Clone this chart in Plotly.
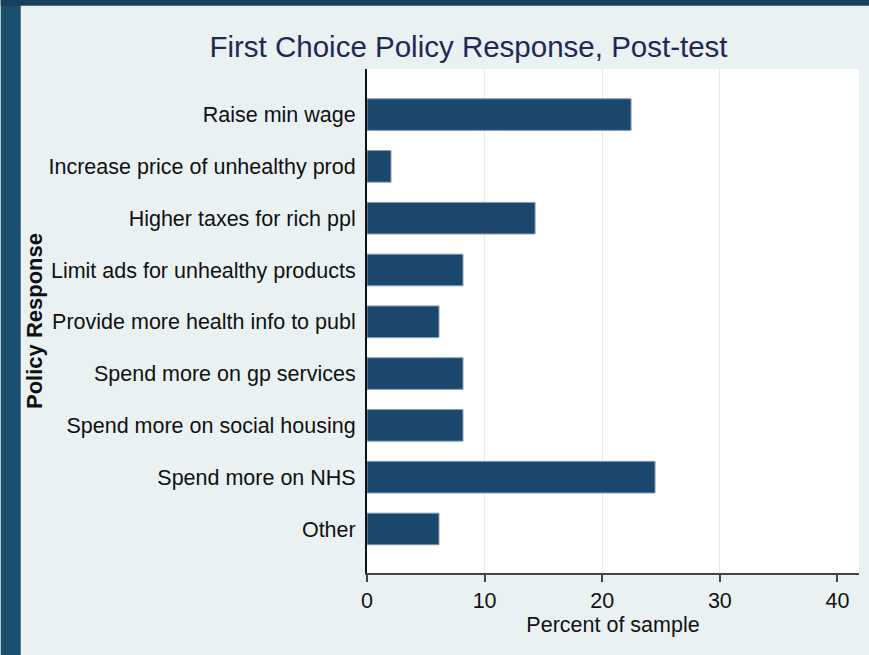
import plotly.graph_objects as go

categories = [
    "Raise min wage",
    "Increase price of unhealthy prod",
    "Higher taxes for rich ppl",
    "Limit ads for unhealthy products",
    "Provide more health info to publ",
    "Spend more on gp services",
    "Spend more on social housing",
    "Spend more on NHS",
    "Other",
]
percent = [22.45, 2.04, 14.29, 8.16, 6.12, 8.16, 8.16, 24.49, 6.12]
x_ticks = [0, 10, 20, 30, 40]
grid_ticks = [10, 20, 30]

W, H = 869, 655
L, R, T, B = 366.7, 9.7, 69.3, 82

fig = go.Figure()
fig.add_trace(go.Bar(
    x=percent, y=categories, orientation="h",
    marker=dict(color="#1c476d", line=dict(color="#7f9bb5", width=1)),
    width=0.61, xaxis="x", yaxis="y", showlegend=False,
))
# invisible trace on overlay axis for gridlines
fig.add_trace(go.Scatter(x=[None], y=[None], xaxis="x2", yaxis="y", showlegend=False))

font_family = "Liberation Sans, Arial, sans-serif"
fs = 21.5
fig.update_layout(
    width=W, height=H,
    margin=dict(l=L, r=R, t=T, b=B, pad=0),
    paper_bgcolor="#e9f1f3",
    plot_bgcolor="#ffffff",
    font=dict(family=font_family, size=fs, color="#111111"),
    title=dict(
        text="First Choice Policy Response, Post-test",
        x=468.5 / W, xref="container", xanchor="center",
        y=1 - 47 / H, yref="container", yanchor="middle",
        font=dict(size=29.5, color="#1e2a55", family=font_family),
    ),
    xaxis=dict(
        range=[0, 41.83], tickvals=x_ticks, ticktext=[str(v) for v in x_ticks],
        showgrid=False, zeroline=False,
        showline=True, linecolor="#444444", linewidth=2,
        ticks="outside", ticklen=7, tickwidth=2, tickcolor="#444444",
        tickfont=dict(size=fs, color="#111111"),
        title=dict(text="Percent of sample", standoff=0, font=dict(size=fs, color="#111111")),
    ),
    xaxis2=dict(
        range=[0, 41.83], overlaying="x", tickvals=grid_ticks,
        showgrid=True, gridcolor="#e3ecef", gridwidth=1,
        showticklabels=False, ticks="", zeroline=False, showline=False,
    ),
    yaxis=dict(
        type="category", categoryorder="array", categoryarray=categories,
        range=[8.85, -0.88],
        showgrid=False, zeroline=False,
        showline=True, linecolor="#111111", linewidth=2,
        ticks="", ticklabelstandoff=5,
        tickfont=dict(size=fs, color="#111111"),
        title=dict(text="<b>Policy Response</b>", standoff=0,
                   font=dict(size=22, color="#111111")),
    ),
    shapes=[
        dict(type="rect", xref="paper", yref="paper",
             x0=(0 - L) / (W - L - R), x1=(20 - L) / (W - L - R),
             y0=(H - B - H) / (H - T - B), y1=(H - B) / (H - T - B) + 0.2,
             fillcolor="#1b4e6d", line=dict(width=0), layer="above"),
        dict(type="rect", xref="paper", yref="paper",
             x0=(0 - L) / (W - L - R), x1=1.1,
             y0=(H - B - 6) / (H - T - B), y1=(H - B) / (H - T - B) + 0.2,
             fillcolor="#17415d", line=dict(width=0), layer="above"),
    ],
)

fig.write_html("out.html", config={"displayModeBar": False},
               post_script="document.body.style.margin='0';")
